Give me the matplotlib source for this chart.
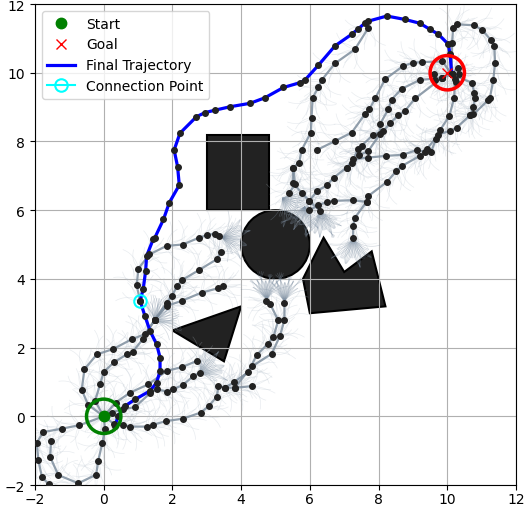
import numpy as np
import matplotlib
matplotlib.use('Agg')
import matplotlib.pyplot as plt
from matplotlib.patches import Rectangle, Circle, Polygon
from matplotlib.collections import LineCollection

# obstacles
rect_xy = (3.0, 6.0)
rect_w, rect_h = 1.8, 2.2
circ_xy = (5.0, 5.0)
circ_r = 1.0
tri_pts = [(2.0, 2.5), (4.0, 3.2), (3.5, 1.6)]
poly_pts = [(5.8, 4.0), (6.4, 5.2), (7.0, 4.2), (7.8, 4.8), (8.2, 3.2), (6.0, 3.0)]

start = (0.0, 0.0)
goal = (10.0, 10.0)
connection = (1.06, 3.36)

# final trajectory
traj_x = [0.33, 0.42, 0.62, 0.91, 1.35, 1.54, 1.64, 1.64, 1.54, 1.35, 1.2, 1.06, 1.15, 1.22, 1.25,
          1.44, 1.49, 1.74, 1.91, 2.2, 2.15, 2.05, 2.22, 2.7, 2.95, 3.24, 3.68, 4.26, 4.69, 5.23,
          5.71, 5.86, 6.25, 6.73, 7.22, 7.41, 7.6, 7.7, 8.24, 8.77, 9.2, 9.5, 9.74, 10.03, 10.08, 10.13]
traj_y = [-0.28, 0.01, 0.3, 0.49, 0.74, 0.98, 1.32, 1.71, 2.1, 2.48, 2.92, 3.36, 3.7, 4.23, 4.67,
          5.15, 5.2, 5.73, 6.22, 6.73, 7.27, 7.75, 8.24, 8.72, 8.84, 8.91, 9.01, 9.11, 9.27, 9.57,
          9.71, 9.79, 10.22, 10.78, 11.12, 11.28, 11.44, 11.5, 11.65, 11.55, 11.44, 11.26, 11.12, 10.83, 10.54, 9.95]

# tree branches (start tree)
br_s1 = [(0, 0), (0.04, -0.38), (-0.04, -0.77), (-0.16, -1.3), (-0.22, -1.7), (-0.74, -1.95),
         (-1.32, -1.71), (-1.56, -1.18), (-1.53, -0.72)]
br_s2 = [(0, 0), (-0.71, -0.26), (-1.22, -0.36), (-1.76, -0.46), (-1.95, -0.77), (-1.9, -1.28),
         (-1.8, -1.76), (-1.6, -1.98)]
br_s3 = [(0, 0), (-0.45, 0.33), (-0.64, 0.77), (-0.56, 1.37), (-0.2, 1.8), (0.28, 1.96),
         (0.81, 2.24), (1.2, 2.39), (1.48, 2.8)]
br_s4 = [(0, 0), (-0.25, 0.45), (-0.1, 0.95), (0.0, 1.29), (0.31, 1.58), (0.67, 1.8),
         (0.85, 1.88), (1.15, 2.26), (1.48, 2.8)]
br_s5 = [(0, 0), (0.23, 0.11), (0.55, 0.2), (0.91, 0.27), (1.35, 0.67), (1.56, 0.79), (1.83, 0.72),
         (2.03, 0.79), (2.3, 0.91), (2.61, 1.17), (2.8, 1.27)]
br_s6 = [(0, 0), (0.35, 0.4), (0.77, 0.69), (1.3, 0.93), (1.83, 1.32), (2.27, 1.43), (2.71, 1.61)]
br_s7 = [(0, 0), (0.3, -0.22), (0.57, -0.25), (0.77, -0.3), (1.25, -0.3), (1.43, -0.25), (1.81, -0.14),
         (2.3, -0.07), (2.83, 0.11), (3.06, 0.3), (3.29, 0.57), (3.34, 0.88), (3.53, 0.83),
         (3.81, 0.83), (4.33, 0.88)]
br_s8 = [(3.53, 0.83), (3.8, 1.0), (4.21, 1.29), (4.45, 1.78), (4.77, 2.1), (4.94, 2.31),
         (5.08, 2.79), (4.84, 3.28), (4.71, 3.36)]
br_s9 = [(3.81, 0.83), (4.31, 1.45), (4.89, 1.82), (5.13, 2.34), (5.26, 2.8), (5.26, 3.31)]
br_s10 = [(1.48, 2.8), (1.83, 3.21), (2.27, 3.36), (2.85, 3.6), (3.34, 3.73), (3.48, 3.79)]
br_s11 = [(1.48, 2.8), (1.83, 3.3), (1.98, 3.5), (2.14, 3.79), (2.27, 3.96), (2.78, 4.26),
          (3.29, 4.57), (3.41, 4.78)]

# tree branches (goal tree)
br_c1 = [(1.06, 3.36), (0.96, 3.81), (1.01, 4.3), (1.33, 4.71), (1.83, 4.96), (2.3, 5.0), (2.78, 5.2),
         (3.0, 5.27), (3.24, 5.32), (3.36, 5.25)]
br_g1 = [(10.13, 9.95), (10.14, 10.87), (10.17, 11.3), (10.27, 11.41), (10.79, 11.38), (11.02, 11.24),
         (11.27, 10.95), (11.37, 10.77), (11.39, 10.29), (11.34, 9.79), (11.24, 9.27), (11.19, 9.2),
         (10.76, 8.79), (10.66, 8.76), (10.27, 8.4), (10.08, 8.31), (9.74, 8.2), (9.4, 7.77),
         (9.2, 7.58), (8.67, 7.28), (8.52, 7.14), (8.24, 6.82), (7.7, 6.41), (7.65, 6.24),
         (7.31, 5.78), (7.26, 5.54), (7.26, 5.2)]
br_g2 = [(10.13, 9.95), (10.71, 9.71), (10.79, 9.42), (10.81, 9.27), (10.76, 8.99), (10.66, 8.76)]
br_g3 = [(10.13, 9.95), (10.22, 9.81), (10.2, 9.27), (10.06, 8.74), (9.79, 8.33), (9.67, 8.06),
         (9.52, 7.69), (9.35, 7.7), (9.11, 7.75), (8.7, 7.61), (8.21, 7.58), (7.7, 7.53), (7.26, 7.48),
         (7.07, 7.24), (6.7, 6.95), (6.49, 6.72), (6.22, 6.56), (5.98, 6.27)]
br_g4 = [(10.13, 9.95), (9.86, 10.33), (9.26, 10.31), (9.01, 10.29), (8.72, 10.2), (8.19, 9.81),
         (7.9, 9.25), (7.73, 8.93), (7.6, 8.79), (7.22, 8.26), (6.73, 8.01), (6.2, 7.75)]
br_g5 = [(9.85, 9.85), (9.2, 9.79), (8.67, 9.53), (8.38, 9.22), (8.28, 8.93), (8.04, 8.5),
         (8.04, 8.21), (7.7, 7.72), (7.43, 7.6), (7.07, 7.24)]
br_g6 = [(9.85, 9.85), (9.06, 9.25), (8.77, 8.89), (8.58, 8.76), (8.33, 8.53), (8.14, 8.3),
         (7.85, 8.2), (7.51, 7.88), (7.4, 7.77), (7.22, 7.38)]
br_g7 = [(7.7, 11.3), (7.31, 10.68), (6.73, 10.27), (6.34, 9.78), (6.25, 9.58), (6.08, 9.27),
         (6.05, 8.69), (6.03, 8.26), (5.76, 7.75), (5.69, 7.38), (5.52, 7.24), (5.5, 6.8),
         (5.76, 6.51), (5.98, 6.27), (6.3, 5.98)]
br_g8 = [(5.52, 7.24), (5.57, 6.75), (5.4, 6.5)]
br_g9 = [(7.65, 6.24), (7.25, 6.29), (6.69, 6.27), (6.49, 6.24), (6.25, 6.14), (5.98, 6.0)]
br_g10 = [(10.13, 9.95), (10.3, 10.15), (10.35, 9.95), (10.25, 9.72)]
br_g11 = [(10.13, 9.95), (9.85, 9.85), (9.65, 9.8), (9.6, 9.95)]

# dense sampling fans near obstacles: centre, heading (deg), spread (deg)
fan_x = [1.48, 3.45, 5.2, 5.85, 6.3, 7.26, 4.75, 5.26, 2.8]
fan_y = [2.8, 5.2, 6.35, 6.1, 5.95, 5.15, 3.4, 3.35, 1.25]
fan_dir = [40, 0, -35, -100, -75, -90, 95, 90, 35]
fan_spread = [140, 110, 120, 100, 100, 110, 80, 80, 110]

branches = [br_s1, br_s2, br_s3, br_s4, br_s5, br_s6, br_s7, br_s8, br_s9, br_s10, br_s11,
            br_c1, br_g1, br_g2, br_g3, br_g4, br_g5, br_g6, br_g7, br_g8, br_g9, br_g10, br_g11]


def arc(x0, y0, heading, curv, length, n=12):
    ds = length / (n - 1)
    th = heading + curv * np.arange(n - 1) * ds
    xs = x0 + np.concatenate([[0], np.cumsum(np.cos(th) * ds)])
    ys = y0 + np.concatenate([[0], np.cumsum(np.sin(th) * ds)])
    return np.column_stack([xs, ys])


fig = plt.figure(figsize=(5.26, 5.06), dpi=100)
ax = fig.add_axes([0.0665, 0.0395, 0.9145, 0.9506])

for p in [Rectangle(rect_xy, rect_w, rect_h), Circle(circ_xy, circ_r), Polygon(tri_pts), Polygon(poly_pts)]:
    p.set_facecolor('#222222')
    p.set_edgecolor('black')
    p.set_linewidth(1.5)
    p.set_zorder(1)
    ax.add_patch(p)

# light fans at every node
fan_segs = []
offs = np.radians([-80, -50, -30, -12, 12, 30, 50, 80])
curvs = [1.8, -1.4, 1.0, -0.6, 0.6, -1.0, 1.4, -1.8]
lens = [0.6, 0.75, 0.55, 0.7, 0.65, 0.5, 0.75, 0.6]
for br in branches:
    pts = np.array(br, dtype=float)
    for i in range(len(pts)):
        if i < len(pts) - 1:
            d = pts[i + 1] - pts[i]
        else:
            d = pts[i] - pts[i - 1]
        h = np.arctan2(d[1], d[0])
        for o, c, L in zip(offs, curvs, lens):
            fan_segs.append(arc(pts[i, 0], pts[i, 1], h + o, c, L))
ax.add_collection(LineCollection(fan_segs, colors='#b6c1cc', linewidths=0.5, alpha=0.3, zorder=2))

# dense fans
dense = []
for fx, fy, fd, fs in zip(fan_x, fan_y, fan_dir, fan_spread):
    for k, a in enumerate(np.linspace(-fs / 2, fs / 2, 36)):
        c = [-1.2, -0.6, 0.0, 0.6, 1.2][k % 5]
        L = [0.75, 0.55, 0.85, 0.65][k % 4]
        dense.append(arc(fx, fy, np.radians(fd + a), c, L))
ax.add_collection(LineCollection(dense, colors='#8293a5', linewidths=0.5, alpha=0.35, zorder=2))

for br in branches:
    pts = np.array(br, dtype=float)
    ax.plot(pts[:, 0], pts[:, 1], color='#7d8d9d', lw=1.6, alpha=0.85, zorder=2.2)

ax.plot(traj_x, traj_y, color='blue', lw=2.3, zorder=2.5, label='Final Trajectory')

for br in branches:
    pts = np.array(br, dtype=float)
    ax.plot(pts[:, 0], pts[:, 1], 'o', color='#222222', ms=4, ls='none', zorder=3)
ax.plot(traj_x, traj_y, 'o', color='#222222', ms=4, ls='none', zorder=3)

ax.plot(*start, 'o', color='green', ms=7.5, zorder=4, label='Start')
ax.plot(*goal, 'x', color='red', ms=7, mew=1, zorder=4, label='Goal')
ax.add_patch(Circle(start, 0.5, fill=False, edgecolor='green', lw=2.5, zorder=4))
ax.add_patch(Circle(goal, 0.5, fill=False, edgecolor='red', lw=2.5, zorder=4))
ax.plot(*connection, 'o-', color='cyan', mfc='none', ms=9, mew=1.5, zorder=4, label='Connection Point')

h, l = ax.get_legend_handles_labels()
order = [l.index('Start'), l.index('Goal'), l.index('Final Trajectory'), l.index('Connection Point')]
ax.legend([h[i] for i in order], [l[i] for i in order], loc='upper left')

ax.set_xlim(-2, 12)
ax.set_ylim(-2, 12)
ax.set_xticks(range(-2, 13, 2))
ax.set_yticks(range(-2, 13, 2))
ax.tick_params(axis='x', pad=1.5)
ax.grid(True)

fig.savefig('out.png', dpi=100)
